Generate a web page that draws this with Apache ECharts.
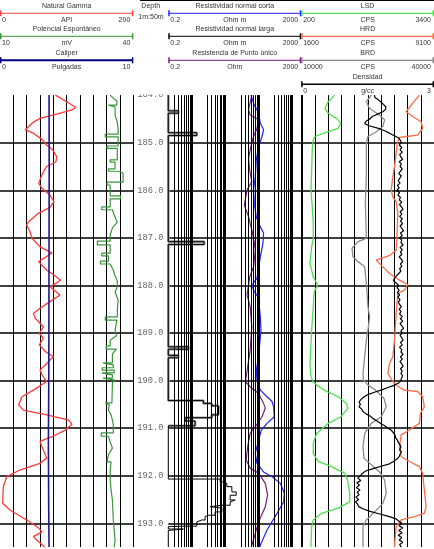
<!DOCTYPE html>
<html><head><meta charset="utf-8">
<script src="https://cdn.jsdelivr.net/npm/echarts@6/dist/echarts.min.js"></script>
<style>html,body{margin:0;padding:0;background:#fff}#c{width:434px;height:549px}</style>
</head><body><div id="c"></div>
<script>
(function(){
// ---------- depth scale ----------
const depthMin = 184.0, depthMax = 193.5, depthInterval = 1;

// ---------- Track 1 curves: [depth m, value] ----------
const grDepth = [184.00,184.14,184.26,184.31,184.40,184.49,184.59,184.73,184.80,184.93,185.05,185.15,185.29,185.40,185.50,185.64,185.85,185.96,186.10,186.24,186.36,186.48,186.66,186.73,186.87,187.01,187.19,187.32,187.50,187.68,187.75,187.89,188.03,188.20,188.34,188.48,188.59,188.69,188.87,189.01,189.11,189.25,189.39,189.50,189.64,189.78,189.88,190.02,190.20,190.34,190.51,190.62,190.72,190.83,190.92,191.04,191.18,191.28,191.39,191.63,191.74,191.88,192.02,192.23,192.58,192.72,192.93,193.10,193.18,193.28,193.35,193.50];
const grApi = [83,100,114,108,85,60,48,38,50,63,70,79,85,84,70,64,58,63,75,81,75,58,43,40,45,48,60,78,58,70,78,91,75,90,75,60,50,53,65,59,65,59,68,80,70,60,63,70,50,33,28,35,70,103,108,98,78,60,63,70,60,30,10,5,4,15,40,58,63,50,55,67];

const spCurve = [[184.00,34.8],[184.08,35.7],[184.12,36.3],[184.21,36.3],[184.21,34.4],[184.25,34.4],[184.25,35.9],[184.42,35.9],[184.57,36.4],[184.73,36.6],[184.82,36.6],[184.82,33.7],[184.88,33.7],[184.88,36.6],[185.07,36.6],[185.07,34.1],[185.12,34.1],[185.12,36.4],[185.36,36.4],[185.36,34.8],[185.41,34.8],[185.41,35.9],[185.55,35.9],[185.55,34.4],[185.60,34.4],[185.60,36.6],[185.64,36.6],[185.64,37.7],[185.83,37.7],[185.83,34.1],[185.89,34.1],[185.89,34.8],[186.12,34.8],[186.12,37.1],[186.18,37.1],[186.18,34.8],[186.35,34.8],[186.35,32.9],[186.41,32.9],[186.41,35.3],[186.52,35.7],[186.67,36.4],[186.79,35.3],[186.94,34.8],[187.07,34.8],[187.07,31.9],[187.15,31.9],[187.15,34.8],[187.32,34.8],[187.32,32.9],[187.38,32.9],[187.38,34.4],[187.49,34.4],[187.49,32.6],[187.55,32.6],[187.55,34.8],[187.68,35.5],[187.80,35.9],[187.91,36.4],[188.03,36.4],[188.14,35.9],[188.31,36.6],[188.52,36.4],[188.66,36.4],[188.66,33.7],[188.73,33.7],[188.73,36.3],[188.94,35.9],[189.06,36.2],[189.15,34.8],[189.27,34.8],[189.27,33.9],[189.34,33.9],[189.34,36.2],[189.44,35.3],[189.63,35.3],[189.63,33.2],[189.67,33.2],[189.67,35.5],[189.73,35.5],[189.73,33.0],[189.78,33.0],[189.78,35.7],[189.84,35.7],[189.84,32.9],[189.88,32.9],[189.88,35.3],[189.95,35.3],[189.95,33.2],[189.99,33.2],[189.99,35.9],[190.05,35.3],[190.41,35.2],[190.47,35.2],[190.47,33.7],[190.51,33.7],[190.51,34.6],[190.62,34.4],[190.72,35.0],[190.83,35.3],[190.93,35.5],[191.10,35.5],[191.10,32.8],[191.17,32.8],[191.17,34.4],[191.29,34.8],[191.42,35.3],[191.56,34.4],[191.71,34.1],[191.71,35.0],[191.88,34.8],[192.09,34.8],[192.30,35.0],[192.51,35.3],[192.72,35.4],[192.93,35.5],[193.14,35.7],[193.35,35.9],[193.50,35.7]];

const calCurve = [[184.0,3.68],[185.5,3.69],[187.0,3.68],[188.5,3.67],[190.0,3.66],[191.3,3.63],[192.5,3.65],[193.5,3.68]];

// ---------- Track 3 curves (Ohm m) ----------
const rcCurve = [[184.00,60],[184.17,72],[184.38,102],[184.59,115],[184.73,144],[184.87,129],[185.08,102],[185.36,87],[185.72,81],[185.99,72],[186.27,76],[186.56,87],[186.77,115],[186.90,144],[187.11,138],[187.40,115],[187.85,91],[187.99,64],[188.10,72],[188.27,102],[188.66,115],[188.94,120],[189.50,102],[189.78,87],[189.99,91],[190.20,115],[190.34,182],[190.44,258],[190.55,288],[190.76,302],[190.90,182],[191.04,123],[191.25,102],[191.53,81],[191.74,91],[191.92,144],[192.02,258],[192.16,457],[192.37,604],[192.55,575],[192.79,364],[193.14,182],[193.46,115],[193.50,110]];

const rpCurve = [[184.00,64],[184.31,51],[184.42,57],[184.52,102],[184.70,91],[184.87,72],[185.08,60],[185.33,51],[185.58,55],[185.82,64],[185.99,46],[186.31,38],[186.56,51],[186.84,64],[187.01,72],[187.26,81],[187.61,72],[187.82,55],[188.20,46],[188.45,57],[188.87,64],[189.36,57],[189.71,48],[190.02,41],[190.13,57],[190.27,102],[190.48,144],[190.58,162],[190.76,129],[190.97,81],[191.11,57],[191.39,48],[191.67,43],[191.84,57],[191.95,102],[192.16,162],[192.40,190],[192.65,162],[192.97,102],[193.46,64],[193.50,62]];

const rlCurve = [[184.00,0.2],[184.33,0.2],[184.33,0.40],[184.38,0.40],[184.38,0.2],[184.79,0.2],[184.79,1.43],[184.85,1.43],[184.85,0.2],[187.08,0.2],[187.08,2.37],[187.14,2.37],[187.14,0.2],[189.29,0.2],[189.29,0.80],[189.34,0.80],[189.34,0.2],[189.47,0.2],[189.47,0.40],[189.52,0.40],[189.52,0.2],[190.42,0.2],[190.42,2.26],[190.48,2.26],[190.48,4.04],[190.53,4.04],[190.53,6.38],[190.72,6.38],[190.72,4.04],[190.78,4.04],[190.78,0.64],[190.85,0.64],[190.85,1.27],[190.95,1.27],[190.95,0.2],[192.07,0.2],[192.07,7.18],[192.13,7.18],[192.13,9.02],[192.16,9.02],[192.16,11.4],[192.23,11.4],[192.23,16.1],[192.34,16.1],[192.34,21.7],[192.41,21.7],[192.41,14.3],[192.51,14.3],[192.51,20.3],[192.55,20.3],[192.55,14.3],[192.62,14.3],[192.62,8.07],[192.65,3.59],[192.68,3.59],[192.68,8.07],[192.76,8.07],[192.76,5.07],[192.83,5.07],[192.83,3.19],[192.86,3.19],[192.86,2.54],[192.93,2.54],[192.93,2.02],[192.97,2.02],[192.97,1.43],[193.06,1.43],[193.06,0.64],[193.07,0.2],[193.12,0.2],[193.12,0.565],[193.15,0.565],[193.15,0.2],[193.50,0.2]];

// ---------- Track 4 curves ----------
const lsdCurve = [[184.00,1001],[184.14,840],[184.28,761],[184.38,840],[184.49,1042],[184.59,1146],[184.70,1081],[184.77,840],[184.87,520],[184.94,479],[185.15,455],[185.57,441],[185.99,424],[186.35,455],[186.69,479],[187.01,479],[187.19,441],[187.54,400],[187.82,479],[187.99,585],[188.13,503],[188.45,479],[188.94,441],[189.64,400],[189.92,424],[190.03,480],[190.09,561],[190.20,740],[190.34,1081],[190.48,1283],[190.58,1321],[190.76,1146],[190.90,840],[191.11,561],[191.32,479],[191.53,479],[191.70,599],[191.81,922],[191.95,1242],[192.09,1307],[192.37,1362],[192.55,1362],[192.68,1081],[192.79,681],[192.93,479],[193.07,441],[193.46,424],[193.50,424]];

const hrdCurve = [[184.00,8271],[184.17,7893],[184.35,7521],[184.45,7893],[184.56,8367],[184.70,8457],[184.84,8175],[184.87,7521],[184.89,7143],[185.01,7014],[185.22,6957],[185.50,6861],[185.72,6765],[185.99,6675],[186.14,6765],[186.24,6957],[186.48,7047],[186.84,7014],[187.26,6957],[187.37,6579],[187.47,5829],[187.61,6201],[187.75,6579],[187.89,7143],[187.98,7611],[188.10,7425],[188.17,7047],[188.59,6957],[189.15,6861],[189.50,6765],[189.64,6579],[189.85,6483],[190.02,6765],[190.11,7000],[190.20,7425],[190.23,8175],[190.34,8457],[190.55,8553],[190.69,8327],[190.90,8271],[191.04,7707],[191.14,7239],[191.39,7143],[191.60,7239],[191.70,7707],[191.81,8271],[191.95,8457],[192.30,8553],[192.65,8649],[192.79,8553],[192.86,7989],[192.93,7239],[193.07,6957],[193.46,6861],[193.50,6861]];

const brdCurve = [[184.00,25789],[184.14,24662],[184.28,25406],[184.42,27662],[184.52,28789],[184.66,28406],[184.77,26917],[184.87,25023],[185.01,24662],[185.64,24662],[186.27,24436],[187.01,24662],[187.08,22767],[187.22,21414],[187.40,21639],[187.50,22767],[187.61,24278],[187.96,24662],[188.45,25023],[188.66,25406],[188.94,25023],[189.15,24662],[189.50,24278],[189.85,23895],[189.99,24000],[190.09,25023],[190.20,26700],[190.37,28632],[190.55,29173],[190.76,28045],[190.90,25789],[191.11,24278],[191.39,23895],[191.63,24120],[191.77,25789],[191.92,27662],[192.09,28789],[192.37,29173],[192.58,28406],[192.76,26534],[192.93,24662],[193.07,23895],[193.46,23895],[193.50,23895]];

// density log sampled every 0.05 m from 184.00 m
const denStart = 184.00, denStep = 0.05;
const denValues = [
1.65,1.66,1.74,1.80,1.86,1.91,1.90,1.84,1.72,1.60,1.55,1.46,1.43,1.55,1.74,1.88,1.99,2.09,2.20,2.24,
2.26,2.21,2.27,2.23,2.28,2.22,2.25,2.29,2.21,2.26,2.23,2.28,2.24,2.20,2.26,2.22,2.19,2.23,2.17,2.21,
2.16,2.22,2.18,2.24,2.21,2.27,2.22,2.26,2.30,2.23,2.27,2.22,2.28,2.24,2.29,2.23,2.27,2.31,2.24,2.28,
2.22,2.27,2.25,2.30,2.23,2.28,2.24,2.27,2.21,2.26,2.29,2.24,2.27,2.22,2.25,2.20,2.15,2.10,2.08,2.14,
2.20,2.16,2.21,2.17,2.22,2.18,2.23,2.19,2.22,2.26,2.21,2.25,2.22,2.28,2.24,2.29,2.23,2.27,2.31,2.25,
2.28,2.23,2.27,2.30,2.24,2.28,2.22,2.27,2.25,2.30,2.24,2.28,2.23,2.27,2.30,2.24,2.28,2.25,2.29,2.26,
2.25,2.20,2.09,1.94,1.80,1.63,1.49,1.40,1.34,1.30,1.33,1.30,1.36,1.39,1.46,1.56,1.62,1.71,1.79,1.88,
1.96,2.04,2.08,2.12,2.13,2.17,2.19,2.23,2.25,2.22,2.26,2.23,2.21,2.16,2.08,1.99,1.80,1.62,1.45,1.38,
1.33,1.27,1.34,1.25,1.31,1.24,1.32,1.26,1.30,1.23,1.29,1.22,1.27,1.29,1.40,1.55,1.75,1.95,2.13,2.20,
2.27,2.21,2.29,2.20,2.28,2.19,2.27,2.21,2.29,2.22,2.26];

// ---------- grid values for the log track ----------
const resMajor = [1, 10, 100, 1000, 2000];
const resMinor = [0.3,0.4,0.5,0.6,0.7,0.8,0.9,3,4,5,6,7,8,9,30,40,50,60,70,80,90,300,400,500,600,700,800,900];

// ---------- header definitions ----------
const headerTracks = [
  {x0: 0, x1: 133.3, rows: [
    {title: 'Natural Gamma', unit: 'API', lo: '0', hi: '200', color: '#ff4444', w: 1},
    {title: 'Potencial Espontáneo', unit: 'mV', lo: '10', hi: '40', color: '#3a963a', w: 1},
    {title: 'Caliper', unit: 'Pulgadas', lo: '0', hi: '10', color: '#000080', w: 2}
  ]},
  {x0: 168.3, x1: 301.2, rows: [
    {title: 'Resistividad normal corta', unit: 'Ohm m', lo: '0.2', hi: '2000', color: '#2222ff', w: 1},
    {title: 'Resistividad normal larga', unit: 'Ohm m', lo: '0.2', hi: '2000', color: '#000000', w: 1},
    {title: 'Resistencia de Punto único', unit: 'Ohm', lo: '0.2', hi: '2000', color: '#7a1a7a', w: 1}
  ]},
  {x0: 301.2, x1: 434, rows: [
    {title: 'LSD', unit: 'CPS', lo: '200', hi: '3400', color: '#55e055', w: 1.2},
    {title: 'HRD', unit: 'CPS', lo: '1600', hi: '9100', color: '#ff6a48', w: 1.2},
    {title: 'BRD', unit: 'CPS', lo: '10000', hi: '40000', color: '#888888', w: 1.2},
    {title: 'Densidad', unit: 'g/cc', lo: '0', hi: '3', color: '#000000', w: 1.5}
  ]}
];
const depthHeader = ['Depth', '1m:50m'];

// ---------- build ----------
const swap = c => c.map(p => [p[1], p[0]]);
const grData = grDepth.map((d, i) => [grApi[i], d]);
const denData = denValues.map((v, i) => [v, +(denStart + i * denStep).toFixed(2)]);

const rowY = [[6, 13.3, 20.3], [29.3, 36.3, 43.3], [52.7, 60.3, 67.5], [77.5, 84.3, 90.8]];
const hFont = '7px "Liberation Sans", Arial, sans-serif';
const txtCol = '#333';
const graphics = [];
headerTracks.forEach(t => {
  t.rows.forEach((r, i) => {
    const [ty, ly, lb] = rowY[i];
    const cx = (t.x0 + t.x1) / 2;
    graphics.push({type: 'text', x: cx, y: ty, style: {text: r.title, fill: txtCol, font: hFont, align: 'center', verticalAlign: 'middle'}});
    graphics.push({type: 'line', shape: {x1: t.x0 + 0.5, y1: ly, x2: t.x1 - 0.5, y2: ly}, style: {stroke: r.color, lineWidth: r.w}});
    graphics.push({type: 'line', shape: {x1: t.x0 + 0.7, y1: ly - 3, x2: t.x0 + 0.7, y2: ly + 3}, style: {stroke: r.color, lineWidth: 1.5}});
    graphics.push({type: 'line', shape: {x1: t.x1 - 0.7, y1: ly - 3, x2: t.x1 - 0.7, y2: ly + 3}, style: {stroke: r.color, lineWidth: 1.5}});
    graphics.push({type: 'text', x: t.x0 + 2, y: lb, style: {text: r.lo, fill: txtCol, font: hFont, align: 'left', verticalAlign: 'middle'}});
    graphics.push({type: 'text', x: cx, y: lb, style: {text: r.unit, fill: txtCol, font: hFont, align: 'center', verticalAlign: 'middle'}});
    graphics.push({type: 'text', x: t.x1 - 3, y: lb, style: {text: r.hi, fill: txtCol, font: hFont, align: 'right', verticalAlign: 'middle'}});
  });
});
graphics.push({type: 'text', x: 150.7, y: 6, style: {text: depthHeader[0], fill: txtCol, font: hFont, align: 'center', verticalAlign: 'middle'}});
graphics.push({type: 'text', x: 151, y: 17, style: {text: depthHeader[1], fill: txtCol, font: hFont, align: 'center', verticalAlign: 'middle'}});
graphics.push({type: 'line', shape: {x1: 140, y1: 0.5, x2: 434, y2: 0.5}, style: {stroke: '#000', lineWidth: 1}});
// header area hides the upper half of the first depth label
graphics.push({type: 'rect', z: 100, shape: {x: 133.5, y: 80, width: 34.5, height: 14.6}, style: {fill: '#fff'}});

const plotTop = 95.1, plotH = 452;
const gridLine = {show: true, lineStyle: {color: '#000', width: 1}};
const hiddenAx = {axisLine: {show: false}, axisTick: {show: false}, axisLabel: {show: false}};
const yBase = {type: 'value', min: depthMin, max: depthMax, interval: depthInterval, inverse: true,
  axisLine: {show: false}, axisTick: {show: false},
  splitLine: {show: true, showMinLine: false, showMaxLine: false, lineStyle: {color: '#000', width: 1.6}}};

const markData = resMinor.map(v => ({xAxis: v, lineStyle: {width: 1}}))
  .concat(resMajor.map(v => ({xAxis: v, lineStyle: {width: 2}})));

const line = (name, data, xi, yi, color, width, extra) => Object.assign({
  name, type: 'line', data, xAxisIndex: xi, yAxisIndex: yi, showSymbol: false, symbol: 'none',
  lineStyle: {color, width}, itemStyle: {color}, z: 3, silent: true, animation: false
}, extra || {});

const option = {
  animation: false,
  backgroundColor: '#fff',
  graphic: graphics,
  grid: [
    {left: 0, top: plotTop, width: 133.3, height: plotH},
    {left: 168.3, top: plotTop, width: 133.4, height: plotH},
    {left: 301.7, top: plotTop, width: 133.3, height: plotH}
  ],
  xAxis: [
    Object.assign({type: 'value', gridIndex: 0, min: 0, max: 200, interval: 20, splitLine: Object.assign({showMinLine: false}, gridLine)}, hiddenAx),
    {type: 'value', gridIndex: 0, min: 10, max: 40, show: false},
    {type: 'value', gridIndex: 0, min: 0, max: 10, show: false},
    Object.assign({type: 'log', gridIndex: 1, min: 0.2, max: 2000, logBase: 10, splitLine: {show: false}}, hiddenAx),
    {type: 'value', gridIndex: 2, min: 200, max: 3400, show: false},
    {type: 'value', gridIndex: 2, min: 1600, max: 9100, show: false},
    {type: 'value', gridIndex: 2, min: 10000, max: 40000, show: false},
    Object.assign({type: 'value', gridIndex: 2, min: 0, max: 3, interval: 0.3, splitLine: gridLine}, hiddenAx)
  ],
  yAxis: [
    Object.assign({}, yBase, {gridIndex: 0, position: 'right',
      axisLabel: {show: true, margin: 4, showMaxLabel: false, color: '#666', fontFamily: '"Liberation Mono", monospace', fontSize: 8.7,
        formatter: v => v.toFixed(1)}}),
    Object.assign({}, yBase, {gridIndex: 1, axisLabel: {show: false}}),
    Object.assign({}, yBase, {gridIndex: 2, axisLabel: {show: false}})
  ],
  series: [
    {type: 'line', data: [], xAxisIndex: 3, yAxisIndex: 1, z: 1, silent: true,
      markLine: {silent: true, symbol: 'none', animation: false, label: {show: false},
        lineStyle: {color: '#000', type: 'solid'}, data: markData}},
    line('Natural Gamma', grData, 0, 0, '#ff3838', 1.3),
    line('Potencial Espontáneo', swap(spCurve), 1, 0, '#3a963a', 1.2),
    line('Caliper', swap(calCurve), 2, 0, '#1a1a8c', 1.6),
    line('Resistividad normal larga (sombra)', swap(rlCurve.filter(p => p[0] < 191.5)), 3, 1, '#9a9a9a', 2.6),
    line('Resistividad normal larga', swap(rlCurve), 3, 1, '#000000', 1),
    line('Resistividad normal corta', swap(rcCurve), 3, 1, '#2222ff', 1.2),
    line('Resistencia de Punto único', swap(rpCurve), 3, 1, '#7a1a7a', 1.2),
    line('LSD', swap(lsdCurve), 4, 2, '#4ee04e', 1.3),
    line('HRD', swap(hrdCurve), 5, 2, '#ff6a48', 1.3),
    line('BRD', swap(brdCurve), 6, 2, '#8a8a8a', 1.3),
    line('Densidad', denData, 7, 2, '#000000', 1.2)
  ]
};
const chart = echarts.init(document.getElementById('c'), null, {renderer: 'canvas'});
chart.setOption(option);
})();
</script></body></html>
